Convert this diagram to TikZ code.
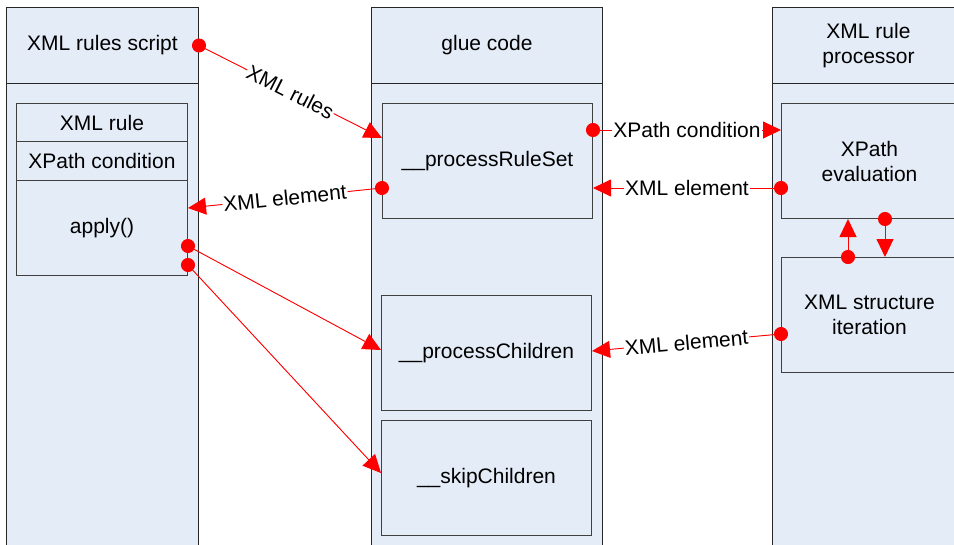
\documentclass[tikz,border=0pt]{standalone}
\usepackage{xcolor}
\usepackage{fontspec}
\setmainfont{Liberation Sans}
\usepackage{tikz}
\usetikzlibrary{arrows.meta}
\definecolor{boxfill}{RGB}{228,236,247}
\definecolor{boxline}{RGB}{64,64,64}

\begin{document}
\begin{tikzpicture}[x=1pt,y=-1pt]
			\tikzstyle{column} = [draw=black!85, fill=boxfill, line width=1pt, anchor=north west, minimum width=192pt, minimum height=600pt]
			\tikzstyle{head} = [draw=black!85, fill=boxfill, line width=1pt, anchor=north west, minimum height=76pt, align=center, font=\fontsize{21}{25}\selectfont]
			\tikzstyle{part} = [draw=boxline, fill=boxfill, line width=1pt, anchor=north west, align=center, font=\fontsize{21}{25}\selectfont]
			\tikzset{flow/.style = {draw=red, line width=0.9pt, {Circle[length=14pt]}-{Triangle[length=18pt,width=17pt]}, shorten <=-7pt, fill=red}}
			\tikzset{lbl/.style = {fill=white, inner sep=1pt, text=black, font=\fontsize{21}{25}\selectfont}}
			
			\useasboundingbox (0,0) rectangle (954,544);
			
			\node[column, minimum width=192pt](col1) at (6,7) {};
			\node[column, minimum width=231pt](col2) at (371,7) {};
			\node[column, minimum width=200pt](col3) at (772,7) {};
			
			\node[head, minimum width=192pt](scripthead) at (6,7) {XML rules script};
			\node[head, minimum width=231pt](gluehead) at (371,7) {glue code};
			\node[head, minimum width=192pt](prochead) at (772,7) {XML rule\\processor};
			
			\node[part, minimum width=171pt, minimum height=38pt](xmlrule) at (16,103) {XML rule};
			\node[part, minimum width=171pt, minimum height=39pt](xpathcond) at (16,141) {XPath condition};
			\node[part, minimum width=171pt, minimum height=95pt](apply) at (16,180) {apply()};
			
			\node[part, minimum width=210pt, minimum height=115pt](ruleset) at (382,103) {\_\_processRuleSet};
			\node[part, minimum width=210pt, minimum height=115pt](children) at (381,295) {\_\_processChildren};
			\node[part, minimum width=210pt, minimum height=115pt](skip) at (381,420) {\_\_skipChildren};
			
			\node[part, minimum width=176pt, minimum height=115pt](xpatheval) at (781,103) {XPath\\evaluation};
			\node[part, minimum width=176pt, minimum height=115pt](iteration) at (781,257) {XML structure\\iteration};
			
			\draw[flow](scripthead.east) to node[lbl, sloped]{XML rules} ([yshift=-35pt]ruleset.north west);
			\draw[flow]([yshift=-85pt]ruleset.north west) to node[lbl, sloped]{XML element} ([yshift=-28pt]apply.north east);
			\draw[flow]([yshift=-66pt]apply.north east) to ([yshift=-55pt]children.north west);
			\draw[flow]([yshift=-85pt]apply.north east) to ([yshift=-53pt]skip.north west);
			
			\draw[flow]([yshift=-27pt]ruleset.north east) to node[lbl]{XPath condition} ([yshift=-27pt]xpatheval.north west);
			\draw[flow]([yshift=-85pt]xpatheval.north west) to node[lbl]{XML element} ([yshift=-85pt]ruleset.north east);
			\draw[flow]([yshift=-77pt]iteration.north west) to node[lbl, sloped]{XML element} ([yshift=-56pt]children.north east);
			
			\draw[flow]([xshift=67pt]iteration.north west) to ([xshift=67pt]xpatheval.south west);
			\draw[flow]([xshift=104pt]xpatheval.south west) to ([xshift=104pt]iteration.north west);
			
\end{tikzpicture}
\end{document}
